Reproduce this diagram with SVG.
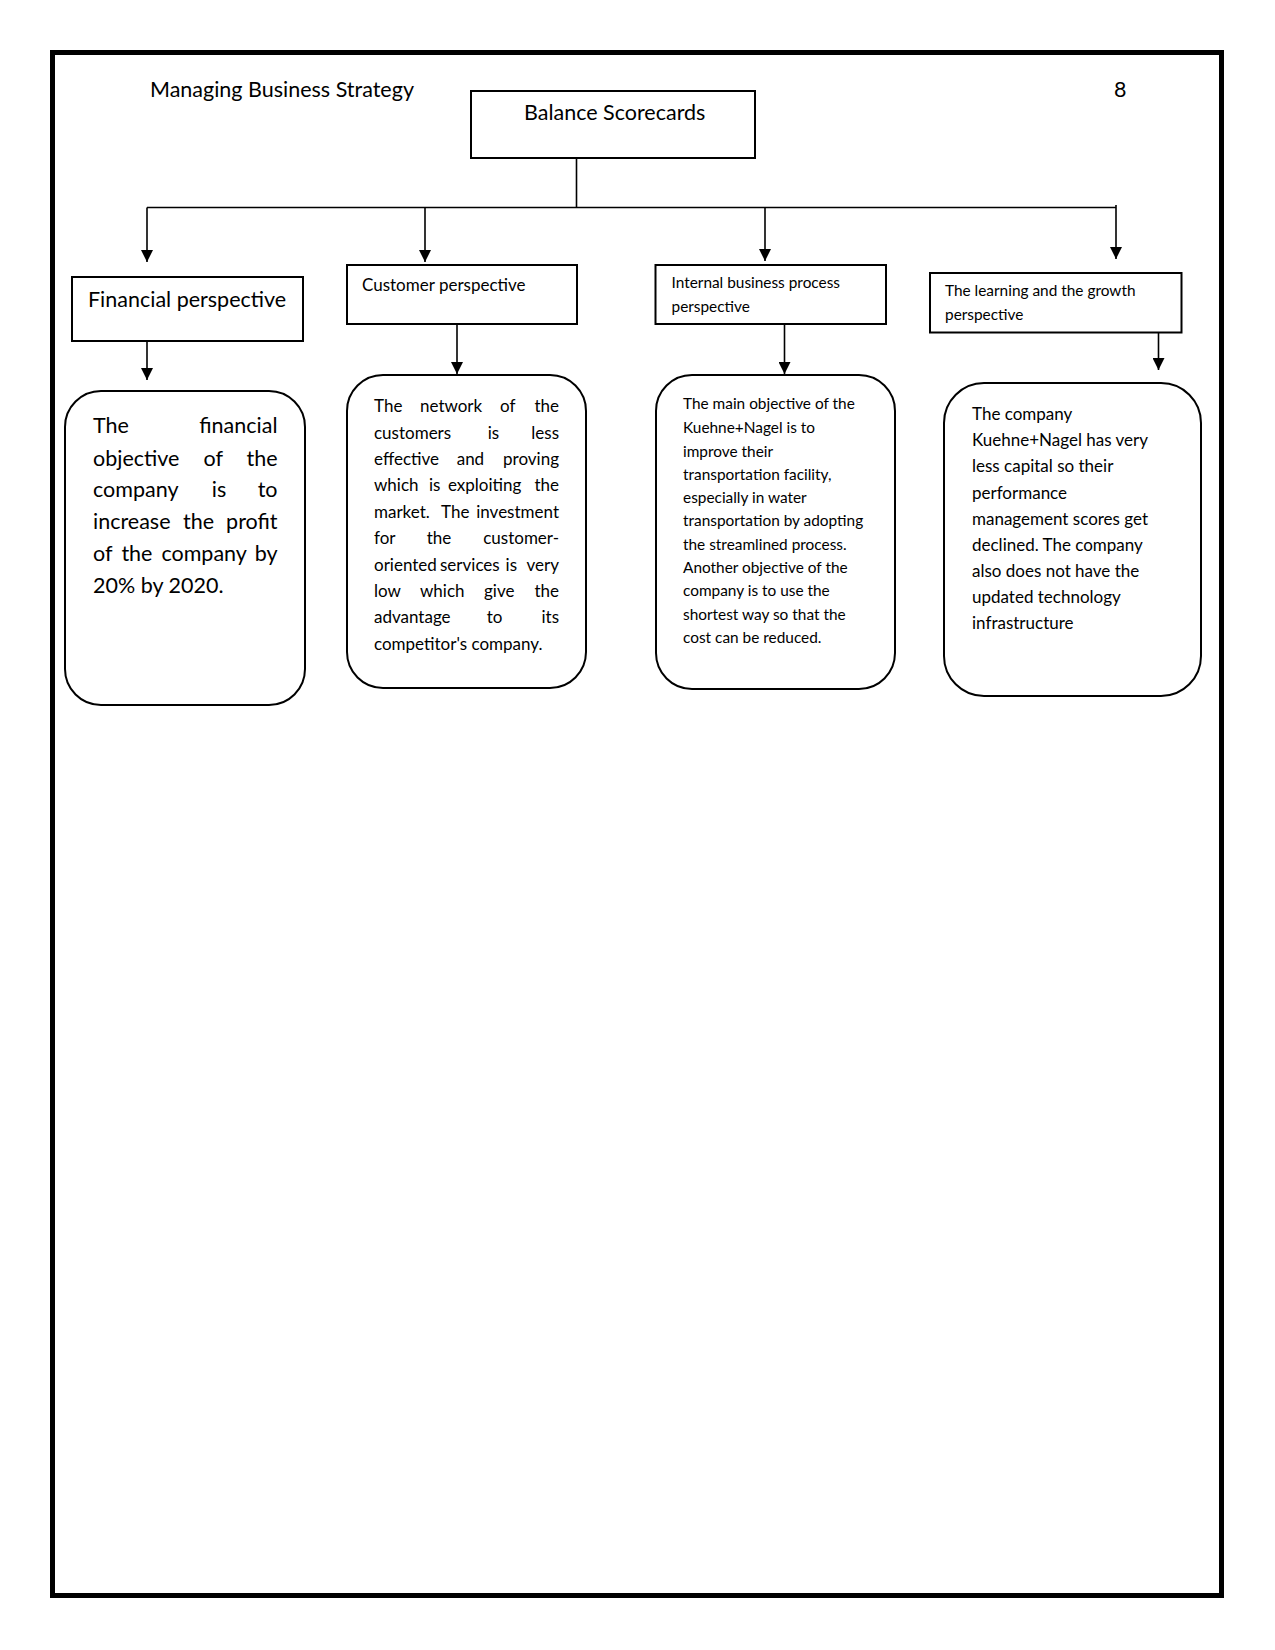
<svg xmlns="http://www.w3.org/2000/svg" width="1275" height="1650" viewBox="0 0 1275 1650">
<style>
text{font-family:Lato,"Liberation Sans",sans-serif;fill:#000}
.box{fill:#fff;stroke:#000;stroke-width:2}
.rbox{fill:#fff;stroke:#000;stroke-width:2}
.con{fill:none;stroke:#000;stroke-width:1.6}
.big{font-size:21.5px}
.mid{font-size:17px}
.sm{font-size:15.4px}
.e{text-anchor:end}
</style>
<defs>
<marker id="ah" markerUnits="userSpaceOnUse" markerWidth="12" markerHeight="12" refX="12" refY="6" orient="auto">
<path d="M0,0 L12,6 L0,12 z" fill="#000"/>
</marker>
</defs>
<rect x="52.5" y="52.5" width="1169" height="1543" fill="none" stroke="#000" stroke-width="5"/>
<g id="header">
<text class="big" x="150" y="97">Managing Business Strategy</text>
<text class="big" x="1114" y="97">8</text>
</g>
<g id="connectors">
<path class="con" d="M576.5,158 V207.5 M147,207.5 H1116"/>
<path class="con" d="M147,207.5 V262" marker-end="url(#ah)"/>
<path class="con" d="M425,207.5 V262" marker-end="url(#ah)"/>
<path class="con" d="M765,207.5 V261" marker-end="url(#ah)"/>
<path class="con" d="M1116,205 V259" marker-end="url(#ah)"/>
<path class="con" d="M147,329 V380" marker-end="url(#ah)"/>
<path class="con" d="M457,324 V374" marker-end="url(#ah)"/>
<path class="con" d="M784.5,324 V374" marker-end="url(#ah)"/>
<path class="con" d="M1158.5,320 V370" marker-end="url(#ah)"/>
</g>
<g id="balance">
<rect class="box" x="471" y="91" width="284" height="67"/>
<text class="big" x="524" y="120">Balance Scorecards</text>
</g>
<g id="financial">
<rect class="box" x="72" y="277" width="231" height="64"/>
<text class="big" x="88" y="307">Financial perspective</text>
</g>
<g id="customer">
<rect class="box" x="347" y="265" width="230" height="59"/>
<text class="mid" x="362" y="291">Customer perspective</text>
</g>
<g id="internal">
<rect class="box" x="655.5" y="265" width="230.5" height="59"/>
<text class="sm" x="671.5" y="288">Internal business process</text>
<text class="sm" x="671.5" y="312">perspective</text>
</g>
<g id="learning">
<rect class="box" x="930" y="273" width="251.5" height="59.5"/>
<text class="sm" x="945" y="296">The learning and the growth</text>
<text class="sm" x="945" y="320">perspective</text>
</g>
<g id="financial-detail">
<rect class="rbox" x="65" y="391" width="240" height="314" rx="36" ry="36"/>
<text class="big" y="433"><tspan x="93">The</tspan><tspan class="e" x="277.5">financial</tspan></text>
<text class="big" y="465.5"><tspan x="93">objective</tspan><tspan x="203.6">of</tspan><tspan class="e" x="277.5">the</tspan></text>
<text class="big" y="497"><tspan x="93">company</tspan><tspan x="211.8">is</tspan><tspan class="e" x="277.5">to</tspan></text>
<text class="big" y="529"><tspan x="93">increase</tspan><tspan x="183">the</tspan><tspan class="e" x="277.5">profit</tspan></text>
<text class="big" y="561"><tspan x="93">of</tspan><tspan x="121.4">the</tspan><tspan x="161.4">company</tspan><tspan class="e" x="277.5">by</tspan></text>
<text class="big" x="93" y="593">20% by 2020.</text>
</g>
<g id="customer-detail">
<rect class="rbox" x="347" y="375" width="239" height="313" rx="36" ry="36"/>
<text class="mid" y="412"><tspan x="374">The</tspan><tspan x="420">network</tspan><tspan x="500">of</tspan><tspan class="e" x="559">the</tspan></text>
<text class="mid" y="438.5"><tspan x="374">customers</tspan><tspan x="487.7">is</tspan><tspan class="e" x="559">less</tspan></text>
<text class="mid" y="465"><tspan x="374">effective</tspan><tspan x="456.7">and</tspan><tspan class="e" x="559">proving</tspan></text>
<text class="mid" y="491"><tspan x="374">which</tspan><tspan x="429">is</tspan><tspan x="448">exploiting</tspan><tspan class="e" x="559">the</tspan></text>
<text class="mid" y="517.5"><tspan x="374">market.</tspan><tspan x="441">The</tspan><tspan class="e" x="559">investment</tspan></text>
<text class="mid" y="544"><tspan x="374">for</tspan><tspan x="426.7">the</tspan><tspan class="e" x="559">customer-</tspan></text>
<text class="mid" y="570.5"><tspan x="374">oriented</tspan><tspan x="440">services</tspan><tspan class="e" x="517">is</tspan><tspan class="e" x="559">very</tspan></text>
<text class="mid" y="597"><tspan x="374">low</tspan><tspan x="420">which</tspan><tspan x="484">give</tspan><tspan class="e" x="559">the</tspan></text>
<text class="mid" y="623"><tspan x="374">advantage</tspan><tspan x="486.7">to</tspan><tspan class="e" x="559">its</tspan></text>
<text class="mid" x="374" y="650">competitor's company.</text>
</g>
<g id="internal-detail">
<rect class="rbox" x="656" y="375" width="239" height="314" rx="36" ry="36"/>
<text class="sm" x="683" y="409">The main objective of the</text>
<text class="sm" x="683" y="433">Kuehne+Nagel is to</text>
<text class="sm" x="683" y="456.5">improve their</text>
<text class="sm" x="683" y="479.5">transportation facility,</text>
<text class="sm" x="683" y="503">especially in water</text>
<text class="sm" x="683" y="526">transportation by adopting</text>
<text class="sm" x="683" y="549.5">the streamlined process.</text>
<text class="sm" x="683" y="573">Another objective of the</text>
<text class="sm" x="683" y="596">company is to use the</text>
<text class="sm" x="683" y="619.5">shortest way so that the</text>
<text class="sm" x="683" y="643">cost can be reduced.</text>
</g>
<g id="learning-detail">
<rect class="rbox" x="944" y="383" width="257" height="313" rx="40" ry="40"/>
<text class="mid" x="972" y="420">The company</text>
<text class="mid" x="972" y="446">Kuehne+Nagel has very</text>
<text class="mid" x="972" y="472">less capital so their</text>
<text class="mid" x="972" y="498.5">performance</text>
<text class="mid" x="972" y="525">management scores get</text>
<text class="mid" x="972" y="551">declined. The company</text>
<text class="mid" x="972" y="577">also does not have the</text>
<text class="mid" x="972" y="603">updated technology</text>
<text class="mid" x="972" y="629">infrastructure</text>
</g>
</svg>
